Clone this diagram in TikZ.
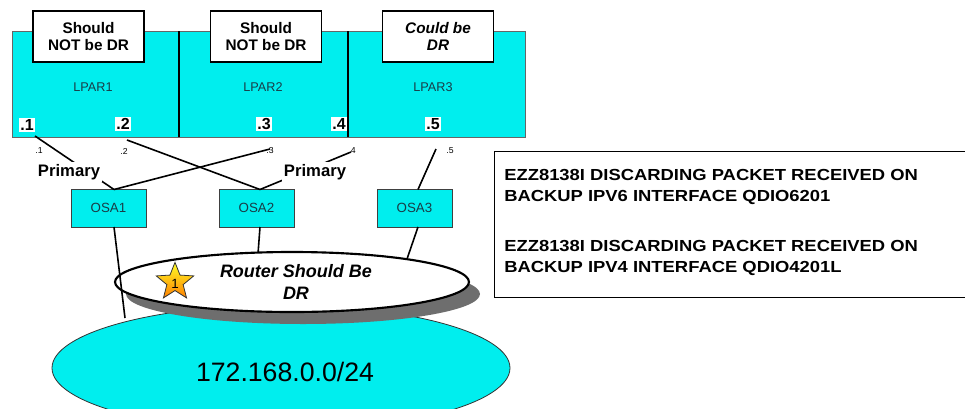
\documentclass[tikz,border=0pt]{standalone}
\usepackage{fontspec}
\setmainfont{Liberation Sans}
\newfontfamily\widefont[FakeStretch=1.15]{Liberation Sans}
\usetikzlibrary{shapes.geometric}
\definecolor{lcyan}{RGB}{0,238,238}
\definecolor{ltext}{RGB}{25,60,70}
\definecolor{shadowgray}{RGB}{110,110,110}
\tikzset{
  conn/.style={line width=1.2pt, black},
  lbox/.style={draw, line width=0.9pt, fill=white, minimum width=83.25pt, minimum height=38.25pt, align=center, inner sep=0pt, font=\fontsize{11.5}{13.3}\selectfont\bfseries},
  addr/.style={fill=white, inner sep=0.8pt, font=\fontsize{12}{14}\selectfont\bfseries},
  small/.style={inner sep=0pt, font=\fontsize{6.5}{7}\selectfont},
  lparlbl/.style={text=ltext, font=\fontsize{9.5}{11}\selectfont},
  osabox/.style={draw=black!75, line width=0.6pt, fill=lcyan, minimum width=56.25pt, minimum height=28.5pt, text=ltext, font=\fontsize{10}{12}\selectfont},
  prim/.style={fill=white, inner sep=1.8pt, font=\fontsize{12.5}{14}\selectfont\bfseries},
  msg/.style={anchor=base west, inner sep=0pt, font=\widefont\fontsize{12}{14}\selectfont\bfseries},
}
\begin{document}
\begin{tikzpicture}[x=0.75pt, y=-0.75pt]
\useasboundingbox (0,0) rectangle (965,408);
\clip (0,0) rectangle (965,408);
% network ellipse
\node (net) [ellipse, draw=black!80, line width=0.6pt, fill=lcyan, minimum width=343.5pt, minimum height=94.5pt] at (281,368) {};
\node (netlbl) [font=\fontsize{20}{24}\selectfont] at (285,372) {172.168.0.0/24};
% LPAR row
\draw[draw=black!60, line width=0.6pt, fill=lcyan] (12,31) rectangle (525,137);
\draw[line width=0.9pt] (179,31) -- (179,137);
\draw[line width=0.9pt] (348,31) -- (348,137);
\node (lp1) [lparlbl] at (93,87) {LPAR1};
\node (lp2) [lparlbl] at (263,87) {LPAR2};
\node (lp3) [lparlbl] at (433,87) {LPAR3};
\node (b1) [lbox] at (88.5,36.5) {Should\\NOT be DR};
\node (b2) [lbox] at (266,36.5) {Should\\NOT be DR};
\node (b3) [lbox, font=\fontsize{11.5}{13.3}\selectfont\bfseries\itshape] at (438,36.5) {Could be\\DR};
\node (a1) [addr] at (27,125) {.1};
\node (a2) [addr] at (123,124) {.2};
\node (a3) [addr] at (264,124) {.3};
\node (a4) [addr] at (339,124) {.4};
\node (a5) [addr] at (433,124) {.5};
% small labels
\node (s1) [small] at (39,151) {.1};
\node (s2) [small] at (124,151) {.2};
\node (s3) [small] at (270,151) {.3};
\node (s4) [small] at (352,151) {.4};
\node (s5) [small] at (450,151) {.5};
% OSA boxes
\node (osa1) [osabox] at (108.5,208) {OSA1};
\node (osa2) [osabox] at (256.5,208) {OSA2};
\node (osa3) [osabox] at (414.5,208) {OSA3};
% connector points
\coordinate (c1) at (35,136);
\coordinate (c2) at (127,140);
\coordinate (c3) at (270,149);
\coordinate (c4) at (351,152);
\coordinate (c5) at (436,149);
\coordinate (t1) at (114,189.5);
\coordinate (t2) at (260,189.5);
\coordinate (t3) at (418,189.5);
\coordinate (u1) at (114,227);
\coordinate (u2) at (260,227);
\coordinate (u3) at (418,227);
\coordinate (r1) at (125,318);
\coordinate (r2) at (258,254);
\coordinate (r3) at (407,259);
\draw[conn] (c1) -- (t1);
\draw[conn] (c3) -- (t1);
\draw[conn] (c2) -- (t2);
\draw[conn] (c4) -- (t2);
\draw[conn] (c5) -- (t3);
\node (pr1) [prim] at (69,172) {Primary};
\node (pr2) [prim] at (315,172) {Primary};
\draw[conn] (u2) -- (r2);
\draw[conn] (u3) -- (r3);
% router ellipse
\node (rshadow) [ellipse, fill=shadowgray, minimum width=265.5pt, minimum height=45pt, inner sep=0pt] at (303,294) {};
\node (router) [ellipse, draw, line width=1.6pt, fill=white, minimum width=265.5pt, minimum height=45pt, inner sep=0pt] at (292,282) {};
\node (rtext) [align=center, font=\fontsize{13.5}{15.8}\selectfont\bfseries\itshape] at (296,282) {Router Should Be\\DR};
\node (star) [star, star points=5, star point ratio=2.3, minimum size=29.5pt, inner sep=0pt, draw=black!80, line width=0.6pt, top color=yellow!85!white, bottom color=orange, font=\fontsize{10}{11}\selectfont] at (175,282) {};
\node (starnum) [font=\fontsize{10}{11}\selectfont, inner sep=0pt] at (175,284) {1};
\draw[conn] (u1) -- (r1);
% message box
\draw[line width=0.7pt] (975,151) -- (494,151) -- (494,297) -- (975,297);
\node (m1) [msg] at (504,180.7) {EZZ8138I DISCARDING PACKET RECEIVED ON};
\node (m2) [msg] at (504,201.7) {BACKUP IPV6 INTERFACE QDIO6201};
\node (m3) [msg] at (504,251) {EZZ8138I DISCARDING PACKET RECEIVED ON};
\node (m4) [msg] at (504,272) {BACKUP IPV4 INTERFACE QDIO4201L};
\end{tikzpicture}
\end{document}
